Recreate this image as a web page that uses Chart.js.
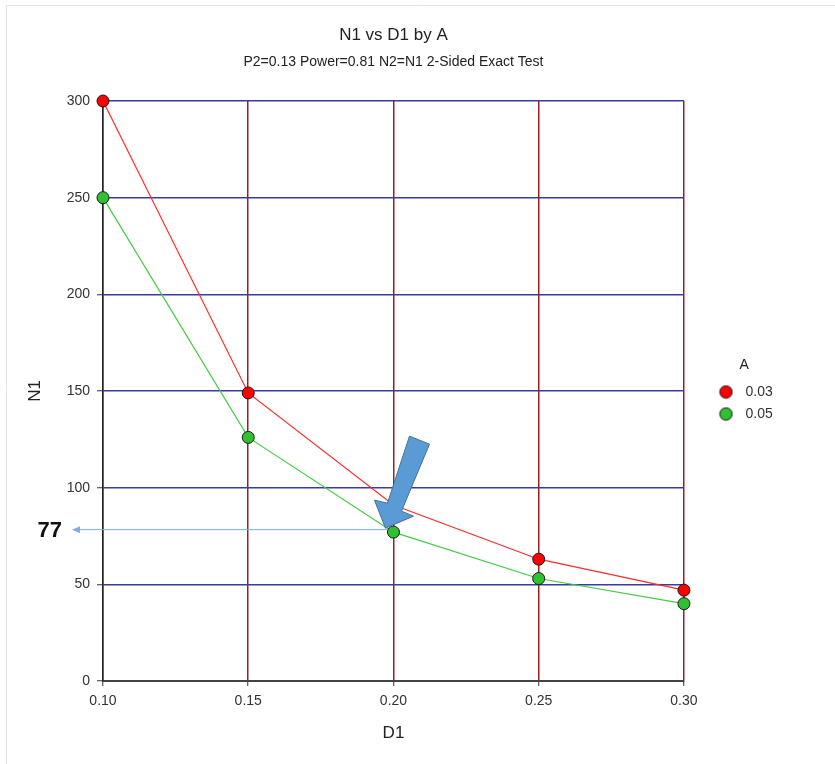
<!DOCTYPE html>
<html><head><meta charset="utf-8">
<script src="https://cdn.jsdelivr.net/npm/chart.js@4.4.0/dist/chart.umd.min.js"></script>
<style>html,body{margin:0;padding:0;background:#fff;}canvas{display:block;}</style>
</head><body>
<canvas id="c" width="835" height="764"></canvas>
<script>
// ---- data ----
const d1Values = [0.10, 0.15, 0.20, 0.25, 0.30];
const seriesLabels = ['0.03', '0.05'];
const n1A003 = [300, 149, 91, 63, 47];
const n1A005 = [250, 126, 77, 53, 40];
const xTickValues = [0.10, 0.15, 0.20, 0.25, 0.30];
const yTickValues = [0, 50, 100, 150, 200, 250, 300];
const highlightX = 0.20;
const highlightY = 77;
const highlightLabel = '77';

const FONT = '"Liberation Sans", Arial, sans-serif';
Chart.defaults.font.family = FONT;
Chart.defaults.color = '#333';

const pointFill = ['#FF0000', '#2FC12F'];
const lineCol = ['#FF2A2A', '#44CC44'];

function legendImg(color) {
  const c = document.createElement('canvas');
  c.width = 15; c.height = 15;
  const g = c.getContext('2d');
  g.beginPath(); g.arc(7.5, 7.5, 6.2, 0, Math.PI * 2);
  g.fillStyle = color; g.fill();
  g.lineWidth = 1; g.strokeStyle = '#1a1a1a'; g.stroke();
  return c;
}
const legendImgs = pointFill.map(legendImg);

const bgPlugin = {
  id: 'bg',
  beforeDraw(chart) {
    const ctx = chart.ctx;
    ctx.save();
    ctx.fillStyle = '#fff';
    ctx.fillRect(0, 0, chart.width, chart.height);
    ctx.strokeStyle = '#e4e4e4'; ctx.lineWidth = 1;
    ctx.beginPath(); ctx.moveTo(6.5, chart.height); ctx.lineTo(6.5, 5.5); ctx.lineTo(chart.width, 5.5); ctx.stroke();
    ctx.restore();
  }
};

const annotPlugin = {
  id: 'annot',
  afterDatasetsDraw(chart) {
    const ctx = chart.ctx;
    const xs = chart.scales.x, ys = chart.scales.y;
    const px = xs.getPixelForValue(highlightX), py = ys.getPixelForValue(highlightY);
    const ly = py - 2.5;
    ctx.save();
    ctx.strokeStyle = '#7AB0E0'; ctx.lineWidth = 1;
    ctx.beginPath(); ctx.moveTo(px - 6, ly); ctx.lineTo(xs.left - 24, ly); ctx.stroke();
    ctx.fillStyle = '#7AB0E0';
    ctx.beginPath(); ctx.moveTo(xs.left - 31, ly); ctx.lineTo(xs.left - 23, ly - 3.5); ctx.lineTo(xs.left - 23, ly + 3.5); ctx.closePath(); ctx.fill();
    ctx.font = 'bold 22px ' + FONT; ctx.fillStyle = '#111';
    ctx.textAlign = 'right'; ctx.textBaseline = 'middle';
    ctx.fillText(highlightLabel, xs.left - 41, ly + 1);
    const shape = [[16, -96], [36, -88], [8, -21], [20, -16], [-8, -4], [-19, -32], [-6, -29]];
    ctx.beginPath();
    shape.forEach(([dx, dy], i) => i ? ctx.lineTo(px + dx, py + dy) : ctx.moveTo(px + dx, py + dy));
    ctx.closePath();
    ctx.fillStyle = '#5B9BD5'; ctx.fill();
    ctx.strokeStyle = '#41719C'; ctx.lineWidth = 1; ctx.stroke();
    ctx.restore();
  }
};

function mkData(vals) { return d1Values.map((x, i) => ({ x, y: vals[i] })); }

new Chart(document.getElementById('c'), {
  type: 'line',
  data: {
    datasets: [n1A003, n1A005].map((vals, i) => ({
      label: seriesLabels[i],
      data: mkData(vals),
      borderColor: lineCol[i],
      backgroundColor: pointFill[i],
      pointBackgroundColor: pointFill[i],
      pointBorderColor: '#1a1a1a',
      pointBorderWidth: 1,
      pointRadius: 6,
      pointHoverRadius: 6,
      borderWidth: 1.2,
      tension: 0,
      fill: false,
      clip: false
    }))
  },
  options: {
    responsive: false,
    animation: false,
    devicePixelRatio: 1,
    layout: { padding: { top: 0, right: 52.3, bottom: 0, left: 0 } },
    plugins: {
      title: {
        display: true, text: 'N1 vs D1 by A', fullSize: false,
        font: { size: 17, weight: 'normal' }, color: '#222',
        padding: { top: 24.8, bottom: 4 }
      },
      subtitle: {
        display: true, text: 'P2=0.13 Power=0.81 N2=N1 2-Sided Exact Test', fullSize: false,
        font: { size: 14 }, color: '#222',
        padding: { top: 4.4, bottom: 30.6 }
      },
      legend: {
        position: 'right', align: 'center', fullSize: false,
        title: { display: true, text: 'A', font: { size: 14 }, color: '#222', padding: { top: 5.6, bottom: 1.6 } },
        labels: {
          usePointStyle: true, pointStyleWidth: 25, font: { size: 14 }, color: '#333', padding: 8,
          generateLabels(chart) {
            return Chart.defaults.plugins.legend.labels.generateLabels(chart).map((it, i) => ({ ...it, pointStyle: legendImgs[i] }));
          }
        }
      },
      tooltip: { enabled: false }
    },
    scales: {
      x: {
        type: 'linear', min: 0.10, max: 0.30,
        afterBuildTicks(s) { s.ticks = xTickValues.map(v => ({ value: v })); },
        ticks: { callback: v => Number(v).toFixed(2), padding: 7, font: { size: 14 }, color: '#333', maxRotation: 0, autoSkip: false },
        grid: { color: '#9A2020', lineWidth: 1.5, tickLength: 5, tickColor: '#333', tickWidth: 1 },
        border: { color: '#444', width: 2 },
        title: { display: true, text: 'D1', font: { size: 17 }, color: '#222', padding: { top: 6, bottom: 20.8 } }
      },
      y: {
        type: 'linear', min: 0, max: 300,
        afterBuildTicks(s) { s.ticks = yTickValues.map(v => ({ value: v })); },
        ticks: { padding: 7, font: { size: 14 }, color: '#333' },
        grid: { color: '#3A3AA0', lineWidth: 1.5, tickLength: 6, tickColor: '#333', tickWidth: 1 },
        border: { color: '#222', width: 1.5 },
        title: { display: true, text: 'N1', font: { size: 17 }, color: '#222', padding: { top: 24.8, bottom: 14.44 } }
      },
      pad: {
        type: 'linear', position: 'right', display: true,
        grid: { display: false, drawTicks: false }, border: { display: false },
        ticks: { display: false },
        afterFit(s) { s.width = 21.5; }
      }
    }
  },
  plugins: [bgPlugin, annotPlugin]
});
</script>
</body></html>
